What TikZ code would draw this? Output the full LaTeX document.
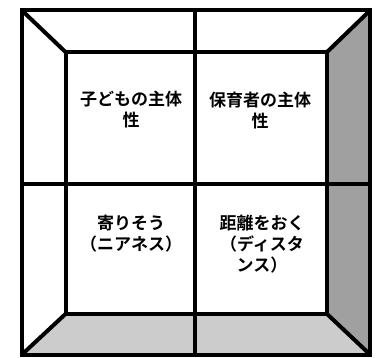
\documentclass[tikz,border=0pt]{standalone}
\usepackage{fontspec}
\newfontfamily\jpfont{Noto Sans CJK JP}[BoldFont={Noto Sans CJK JP Bold}]
\begin{document}
\begin{tikzpicture}[x=1pt,y=-1pt,
  wall/.style={line width=4pt,line join=miter},
  celltext/.style={align=center,font=\jpfont\bfseries\fontsize{17}{21}\selectfont,inner sep=0pt,anchor=north}]
\useasboundingbox (0,0) rectangle (377,358);
\fill[white] (0,0) rectangle (377,358);
% corners
\coordinate (OTL) at (22,10.5);
\coordinate (OTR) at (370,10.5);
\coordinate (OBR) at (370,354.5);
\coordinate (OBL) at (22,354.5);
\coordinate (ITL) at (66,52.5);
\coordinate (ITR) at (326.5,52.5);
\coordinate (IBR) at (326.5,313.5);
\coordinate (IBL) at (66,313.5);
\coordinate (MT) at (195.3,10.5);
\coordinate (MB) at (195.3,354.5);
\coordinate (ML) at (22,184.3);
\coordinate (MR) at (370,184.3);
% side fills
\fill[fill={rgb,255:red,160;green,160;blue,160}] (ITR) -- (OTR) -- (OBR) -- (IBR) -- cycle;
\fill[fill={rgb,255:red,204;green,204;blue,204}] (IBL) -- (IBR) -- (OBR) -- (OBL) -- cycle;
% lines
\draw[wall] (OTL) -- (ITL);
\draw[wall] (OTR) -- (ITR);
\draw[wall] (OBR) -- (IBR);
\draw[wall] (OBL) -- (IBL);
\draw[wall] (ITL) rectangle (IBR);
\draw[wall] (MT) -- (MB);
\draw[wall] (ML) -- (MR);
\draw[wall] (OTL) rectangle (OBR);
% texts
\node[celltext] (t1) at (131,91) {子どもの主体\\性};
\node[celltext] (t2) at (260,92) {保育者の主体\\性};
\node[celltext] (t3) at (131,215) {寄りそう\\（ニアネス）};
\node[celltext] (t4) at (262,215) {距離をおく\\（ディスタ\\ンス）};
\end{tikzpicture}
\end{document}
